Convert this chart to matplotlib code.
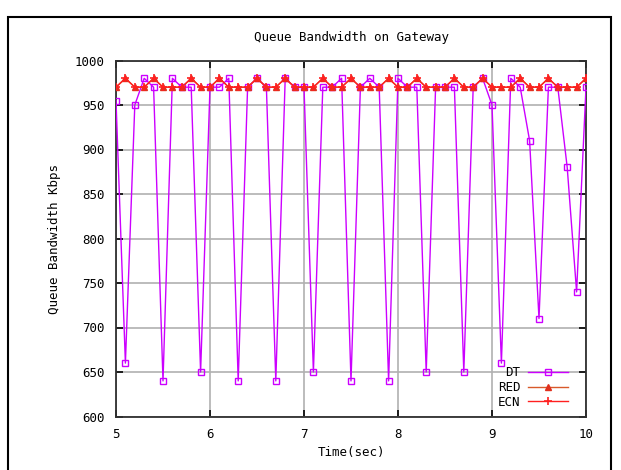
import numpy as np
import matplotlib
matplotlib.use("Agg")
import matplotlib.pyplot as plt
from matplotlib.patches import Rectangle

#   queue bandwidth samples, every 0.1 s from 5.0 to 10.0

time = [5.0, 5.1, 5.2, 5.3, 5.4, 5.5, 5.6, 5.7, 5.8, 5.9,
        6.0, 6.1, 6.2, 6.3, 6.4, 6.5, 6.6, 6.7, 6.8, 6.9,
        7.0, 7.1, 7.2, 7.3, 7.4, 7.5, 7.6, 7.7, 7.8, 7.9,
        8.0, 8.1, 8.2, 8.3, 8.4, 8.5, 8.6, 8.7, 8.8, 8.9,
        9.0, 9.1, 9.2, 9.3, 9.4, 9.5, 9.6, 9.7, 9.8, 9.9, 10.0]

dt = [955, 660, 950, 980, 970, 640, 980, 970, 970, 650,
      970, 970, 980, 640, 970, 980, 970, 640, 980, 970,
      970, 650, 970, 970, 980, 640, 970, 980, 970, 640,
      980, 970, 970, 650, 970, 970, 970, 650, 970, 980,
      950, 660, 980, 970, 910, 710, 970, 970, 880, 740, 970]

red = [970, 980, 970, 970, 980, 970, 970, 970, 980, 970,
       970, 980, 970, 970, 970, 980, 970, 970, 980, 970,
       970, 970, 980, 970, 970, 980, 970, 970, 970, 980,
       970, 970, 980, 970, 970, 970, 980, 970, 970, 980,
       970, 970, 970, 980, 970, 970, 980, 970, 970, 970, 980]

ecn = list(red)

x_ticks = [5, 6, 7, 8, 9, 10]
y_ticks = [600, 650, 700, 750, 800, 850, 900, 950, 1000]

FONT = "DejaVu Sans Mono"

fig = plt.figure(figsize=(6.21, 4.70), dpi=100)
ax = fig.add_axes([116 / 621, 1 - 416.5 / 470, 470 / 621, 356 / 470])

#   outer frame like the original page
fig.patches.append(Rectangle((8 / 621, -0.05), 603 / 621, 1.05 - 17 / 470,
                             transform=fig.transFigure, fill=False,
                             edgecolor="black", linewidth=1.5))

ax.plot(time, dt, color="#cc00ff", linewidth=1.0, marker="s", markersize=5,
        markerfacecolor="none", markeredgecolor="#cc00ff", markeredgewidth=1.0,
        label="DT", zorder=3)
ax.plot(time, red, color="#d85a2a", linewidth=1.0, marker="^", markersize=5,
        markerfacecolor="#e0301e", markeredgecolor="#e0301e",
        label="RED", zorder=4)
ax.plot(time, ecn, color="#ff2020", linewidth=1.0, marker="+", markersize=6,
        markeredgewidth=1.2, label="ECN", zorder=5)

ax.set_xlim(5, 10)
ax.set_ylim(600, 1000)
ax.set_xticks(x_ticks)
ax.set_yticks(y_ticks)
ax.grid(True, color="#b0b0b0", linewidth=1.2, linestyle="-")
ax.set_axisbelow(True)
ax.tick_params(direction="in", length=5, width=1.2, top=True, right=True,
               labelsize=9, pad=8)
for lab in ax.get_xticklabels() + ax.get_yticklabels():
    lab.set_family(FONT)
for sp in ax.spines.values():
    sp.set_linewidth(1.3)
    sp.set_color("#303030")

ax.set_title("Queue Bandwidth on Gateway", family=FONT, fontsize=9, pad=14)
ax.set_xlabel("Time(sec)", family=FONT, fontsize=9, labelpad=4)
ax.set_ylabel("Queue Bandwidth Kbps", family=FONT, fontsize=9, labelpad=10)

leg = ax.legend(loc="lower right", frameon=False, markerfirst=False,
                prop={"family": FONT, "size": 9}, handlelength=3.2,
                handletextpad=0.6, labelspacing=0.15,
                bbox_to_anchor=(0.985, -0.01))
for t in leg.get_texts():
    t.set_ha("right")

fig.savefig("out.png", dpi=100)
